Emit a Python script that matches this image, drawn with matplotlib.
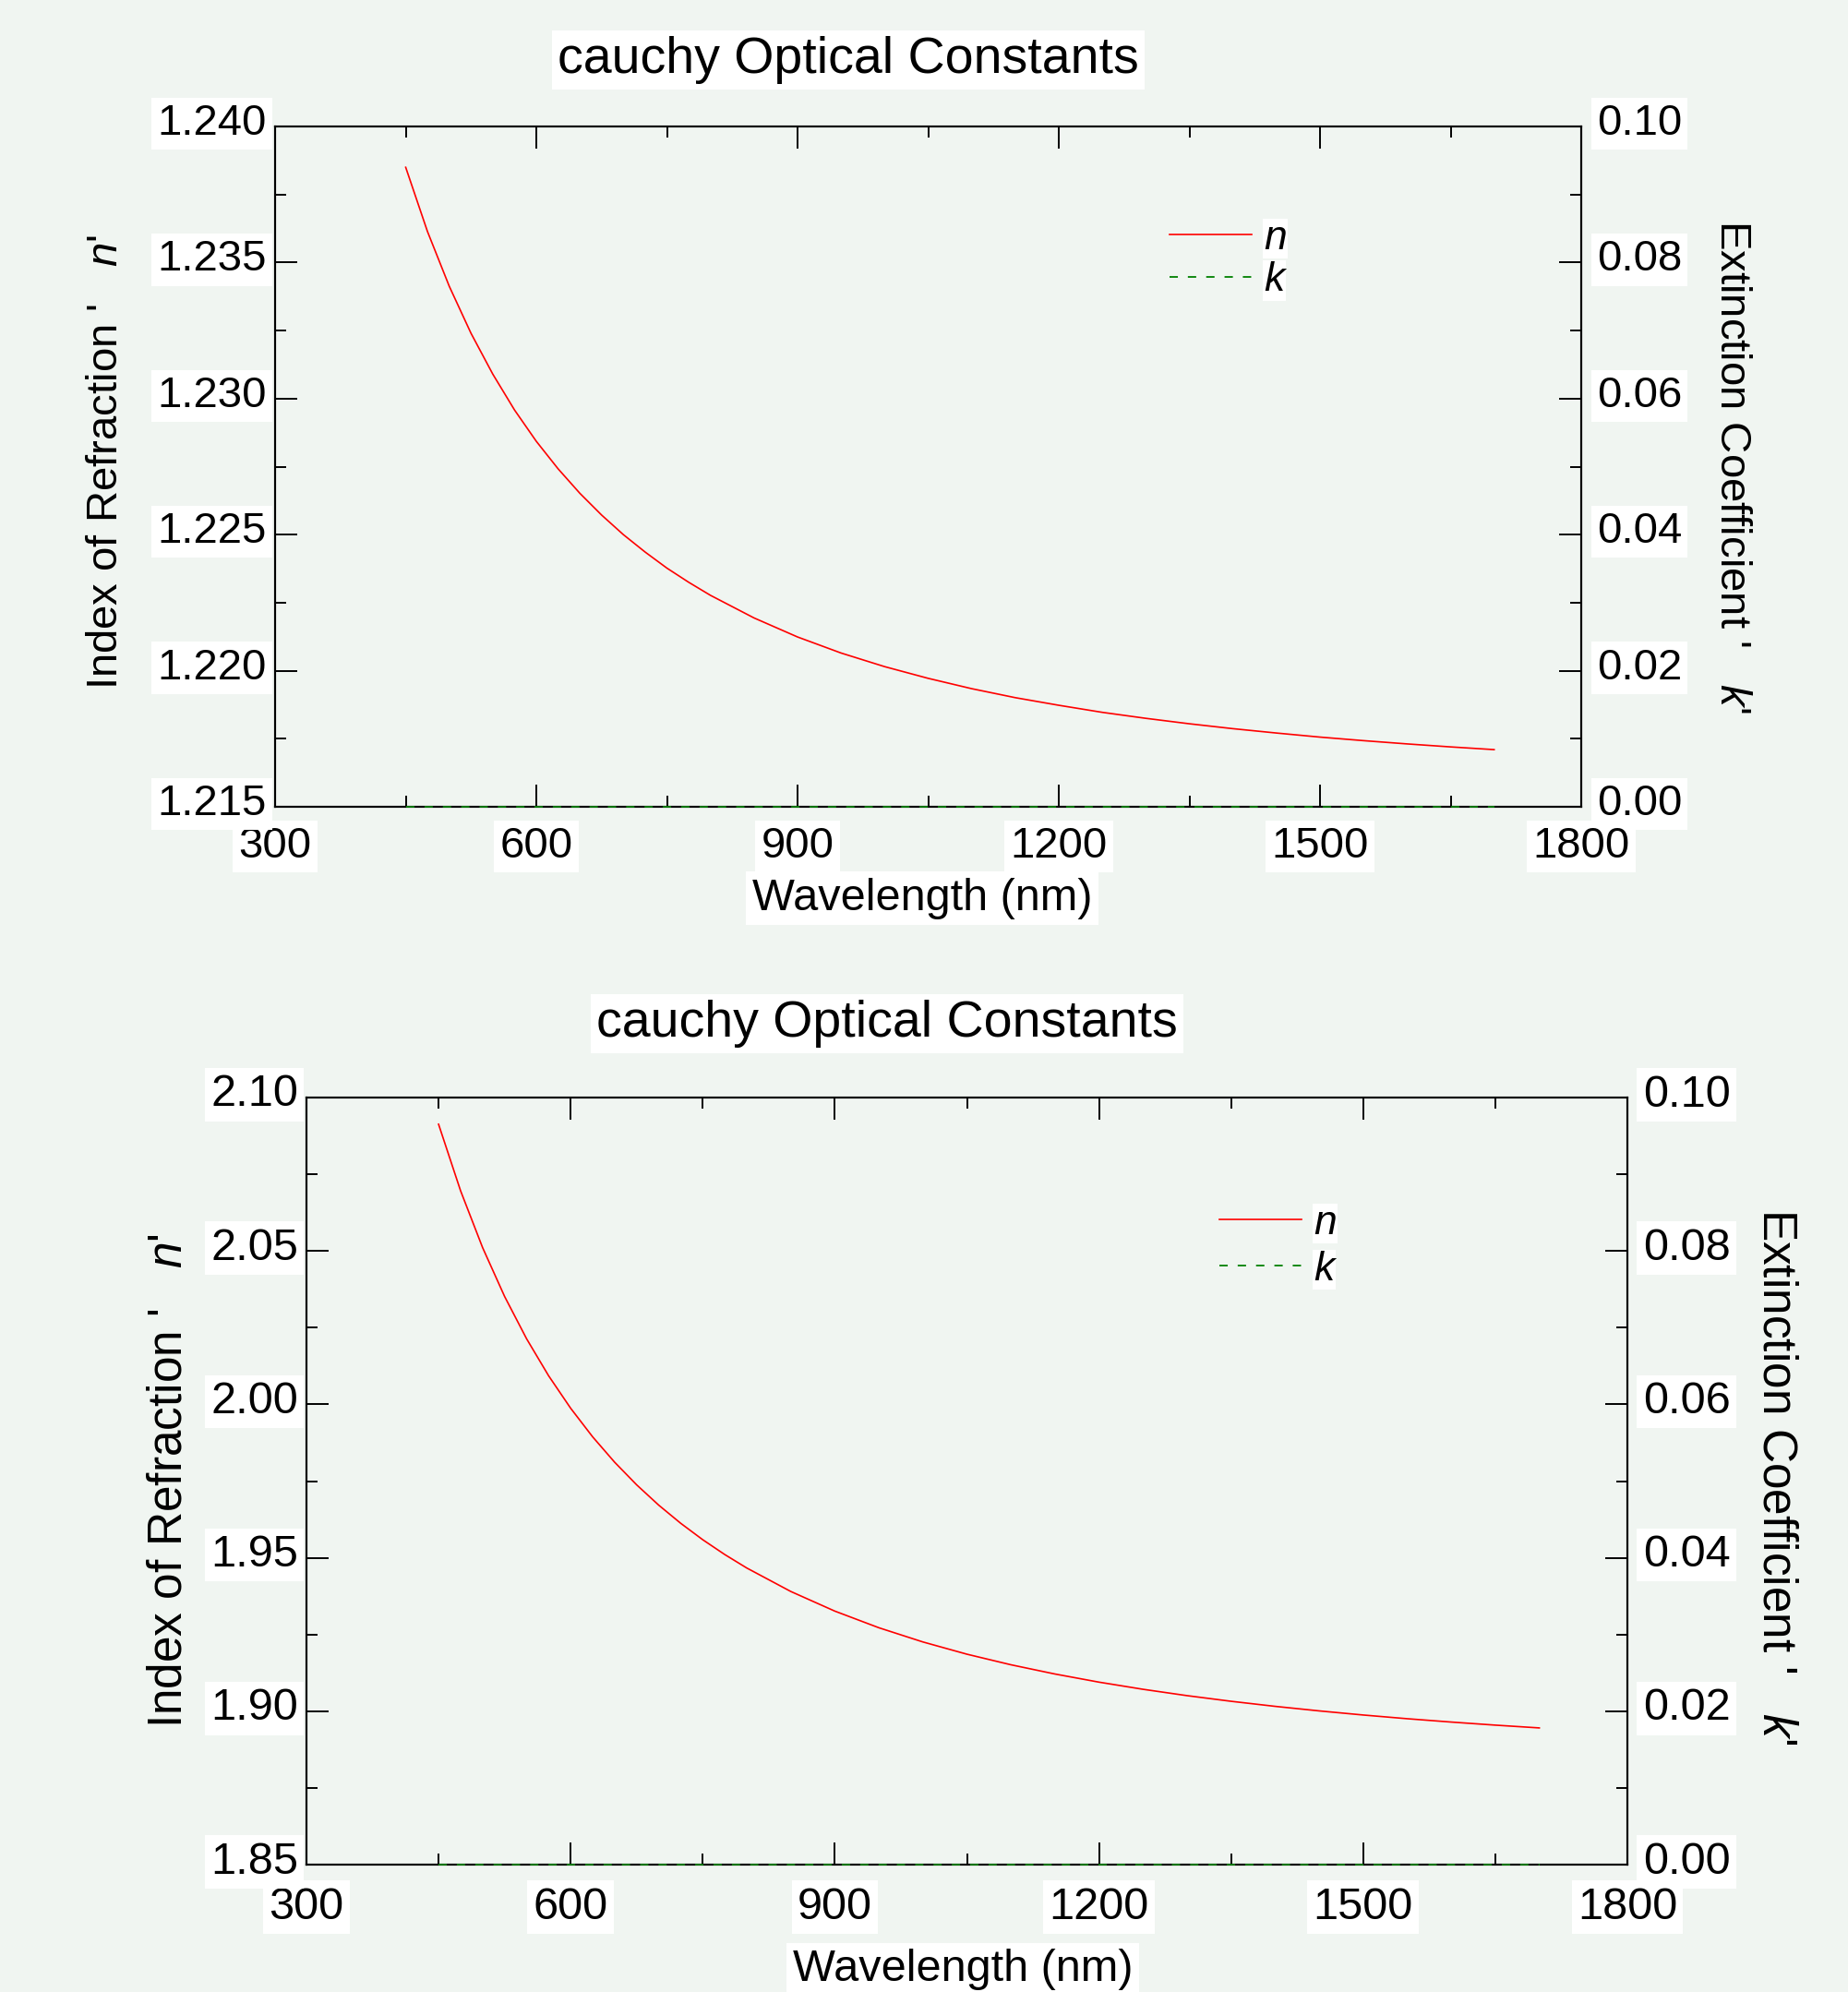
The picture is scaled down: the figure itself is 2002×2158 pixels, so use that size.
import matplotlib
matplotlib.use('Agg')
from matplotlib import pyplot as plt
from matplotlib.ticker import MultipleLocator, FormatStrFormatter
from matplotlib.transforms import ScaledTranslation
import numpy as np

# values
wavelength = [450, 475, 500, 525, 550, 575, 600, 625, 650, 675, 700, 725, 750, 775,
              800, 850, 900, 950, 1000, 1050, 1100, 1150, 1200, 1250, 1300, 1350,
              1400, 1450, 1500, 1550, 1600, 1650, 1700]

n_top = [1.23850, 1.23614, 1.23413, 1.23240, 1.23090, 1.22958, 1.22843, 1.22742,
         1.22652, 1.22572, 1.22500, 1.22436, 1.22377, 1.22325, 1.22277, 1.22194,
         1.22124, 1.22065, 1.22015, 1.21972, 1.21934, 1.21901, 1.21873, 1.21847,
         1.21825, 1.21805, 1.21787, 1.21771, 1.21756, 1.21743, 1.21731, 1.21720,
         1.21710]

n_bottom = [2.09131, 2.06962, 2.05110, 2.03517, 2.02136, 2.00931, 1.99874, 1.98941,
            1.98113, 1.97376, 1.96716, 1.96124, 1.95589, 1.95106, 1.94667, 1.93902,
            1.93262, 1.92720, 1.92257, 1.91858, 1.91513, 1.91212, 1.90947, 1.90714,
            1.90507, 1.90323, 1.90158, 1.90010, 1.89876, 1.89755, 1.89646, 1.89546,
            1.89455]

k_top = [0.0] * len(wavelength)
k_bottom = [0.0] * len(wavelength)

title = 'cauchy Optical Constants'
x_label = 'Wavelength (nm)'
n_label = "Index of Refraction '   $n$'"
k_label = "Extinction Coefficient '   $k$'"

plt.rcParams['font.family'] = ['Liberation Sans', 'DejaVu Sans']
plt.rcParams['mathtext.fontset'] = 'custom'
plt.rcParams['mathtext.rm'] = 'Liberation Sans'
plt.rcParams['mathtext.it'] = 'Liberation Sans:italic'

W, H = 2002, 2158
BG = '#f0f5f1'
WHITE_BOX = dict(facecolor='white', edgecolor='none', pad=4.5)


def fx(x):
    return x / W


def fy(y):
    return 1 - y / H


fig = plt.figure(figsize=(W / 100, H / 100), dpi=100)
fig.patch.set_facecolor(BG)
lift = ScaledTranslation(0, 3 / 100, fig.dpi_scale_trans)


def panel(box, n_values, k_values, ylim, ymajor, yfmt, fs, xpad, leg_xy, leg_space):
    left, top, right, bottom = box
    ax = fig.add_axes([fx(left), fy(bottom), (right - left) / W, (bottom - top) / H])
    ax2 = ax.twinx()
    # main axes on top so its x tick labels are not hidden by the right labels
    ax.set_zorder(ax2.get_zorder() + 1)
    ax.patch.set_visible(False)
    ax2.set_facecolor(BG)

    ax.set_xlim(300, 1800)
    ax.set_ylim(*ylim)
    ax2.set_ylim(0, 0.10)

    line_n, = ax.plot(wavelength, n_values, color='#ff0000', lw=1.2, label='n')
    # k uses the right-hand scale but is drawn over the bottom spine
    line_k, = ax.plot(wavelength, k_values, color='#008000', lw=1.3,
                      ls=(0, (5, 6)), label='k', transform=ax2.transData,
                      zorder=3, clip_on=False)

    ax.xaxis.set_major_locator(MultipleLocator(300))
    ax.xaxis.set_minor_locator(MultipleLocator(150))
    ax.yaxis.set_major_locator(MultipleLocator(ymajor))
    ax.yaxis.set_minor_locator(MultipleLocator(ymajor / 2))
    ax.yaxis.set_major_formatter(FormatStrFormatter(yfmt))
    ax2.yaxis.set_major_locator(MultipleLocator(0.02))
    ax2.yaxis.set_minor_locator(MultipleLocator(0.01))
    ax2.yaxis.set_major_formatter(FormatStrFormatter('%.2f'))

    for a in (ax, ax2):
        for s in a.spines.values():
            s.set_linewidth(1.5)
        a.tick_params(which='major', direction='in', length=17, width=1.4, labelsize=fs)
        a.tick_params(which='minor', direction='in', length=8.5, width=1.4)
    ax.tick_params(axis='x', which='both', top=True, pad=xpad)
    ax.tick_params(axis='y', which='both', right=False, pad=6.5)
    ax2.tick_params(axis='y', which='both', pad=12)

    for lbl in ax.get_xticklabels():
        lbl.set_bbox(WHITE_BOX)
    for lbl in ax.get_yticklabels() + ax2.get_yticklabels():
        lbl.set_bbox(WHITE_BOX)
        lbl.set_verticalalignment('center')
        lbl.set_transform(lbl.get_transform() + lift)

    leg = ax.legend([line_n, line_k], ['n', 'k'], loc='upper left',
                    bbox_to_anchor=(fx(leg_xy[0]), fy(leg_xy[1])),
                    bbox_transform=fig.transFigure, frameon=False,
                    borderpad=0, borderaxespad=0, handlelength=2.0,
                    handletextpad=0.3, labelspacing=leg_space,
                    prop={'style': 'italic', 'size': 32})
    for t in leg.get_texts():
        t.set_bbox(dict(facecolor='white', edgecolor='none', pad=1))
    return ax, ax2


panel((298, 137, 1713, 874), n_top, k_top, (1.215, 1.240), 0.005, '%.3f', 34, 15,
      (1267, 238), 0.1)
panel((332, 1189, 1763, 2020), n_bottom, k_bottom, (1.85, 2.10), 0.05, '%.2f', 35, 17,
      (1321, 1305), 0.2)

# titles and axis labels
fig.text(fx(919), fy(65), title, ha='center', va='center', fontsize=40, bbox=WHITE_BOX)
fig.text(fx(961), fy(1109), title, ha='center', va='center', fontsize=40, bbox=WHITE_BOX)
fig.text(fx(999), fy(973), x_label, ha='center', va='center', fontsize=35, bbox=WHITE_BOX)
fig.text(fx(1043), fy(2134), x_label, ha='center', va='center', fontsize=35, bbox=WHITE_BOX)

fig.text(fx(115), fy(501), n_label, rotation=90, ha='center', va='center', fontsize=34)
fig.text(fx(1876), fy(505), k_label, rotation=-90, ha='center', va='center', fontsize=34)
fig.text(fx(183), fy(1604), n_label, rotation=90, ha='center', va='center', fontsize=37)
fig.text(fx(1924), fy(1600), k_label, rotation=-90, ha='center', va='center', fontsize=37)

fig.savefig('out.png', dpi=100, facecolor=BG)
